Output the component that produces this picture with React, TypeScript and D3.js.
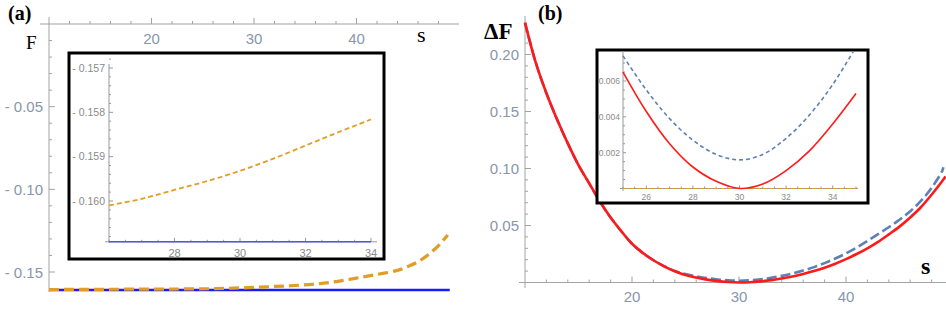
import React from 'react';
import * as d3 from 'd3';

// ---- panel (a): F vs s ----
const sOrangeA = [10, 14, 18, 22, 26, 28, 30, 32, 34, 36, 38, 40, 42, 44, 45, 46, 47, 48, 48.9];
const fOrangeA = [-0.1606, -0.1605, -0.1604, -0.1603, -0.1601, -0.15975, -0.15932, -0.15875, -0.15816,
  -0.1573, -0.1558, -0.1537, -0.1515, -0.149, -0.1467, -0.1438, -0.1395, -0.134, -0.1276];
const sBlueA = [10, 49.1];
const fBlueA = [-0.1609, -0.1609];

const sInsetA = [26, 27, 28, 29, 30, 31, 32, 33, 34];
const fInsetOrangeA = [-0.1601, -0.15995, -0.15975, -0.15955, -0.15932, -0.15905, -0.15875, -0.15845, -0.15816];
const sInsetBlueA = [26, 34];
const fInsetBlueA = [-0.16092, -0.16092];

const aXTicks = [20, 30, 40];
const aYTicks = [-0.05, -0.1, -0.15];
const aInsetXTicks = [28, 30, 32, 34];
const aInsetYTicks = [-0.157, -0.158, -0.159, -0.16];

// ---- panel (b): ΔF vs s ----
const sB = [10, 11, 12, 13, 14, 15, 16, 17, 18, 19, 20, 21, 22, 23, 24, 25, 26, 27, 28, 29,
  30, 31, 32, 33, 34, 35, 36, 37, 38, 39, 40, 41, 42, 43, 44, 45, 46, 47, 48, 49];
const redB = [0.228, 0.193, 0.166, 0.143, 0.122, 0.103, 0.087, 0.071, 0.057, 0.045,
  0.034, 0.026, 0.0195, 0.0142, 0.0099, 0.0065, 0.0043, 0.0025, 0.0012, 0.0004,
  0, 0.00025, 0.001, 0.0021, 0.0036, 0.0053, 0.0075, 0.01, 0.013, 0.0165,
  0.0205, 0.025, 0.03, 0.0357, 0.0422, 0.049, 0.057, 0.066, 0.077, 0.089];
const blueB = [0.228, 0.193, 0.166, 0.143, 0.122, 0.103, 0.087, 0.071, 0.057, 0.045,
  0.034, 0.026, 0.0196, 0.0144, 0.0101, 0.0074, 0.0055, 0.0039, 0.0027, 0.0019,
  0.0016, 0.0019, 0.0028, 0.0041, 0.0058, 0.0079, 0.0105, 0.0135, 0.017, 0.021,
  0.0255, 0.0307, 0.0365, 0.0425, 0.0485, 0.055, 0.0625, 0.0715, 0.083, 0.098];
const sRedEnd = 49.3, redEnd = 0.093;
const sBlueEnd = 49.1, blueEnd = 0.101;

const bXTicks = [20, 30, 40];
const bYTicks = [0.05, 0.1, 0.15, 0.2];
const bInsetXTicks = [26, 28, 30, 32, 34];
const bInsetYTicks = [0.002, 0.004, 0.006];

// scales
const xA = d3.scaleLinear().domain([10, 50]).range([49, 459]);
const yA = d3.scaleLinear().domain([0, -0.15]).range([24, 272]);
const xIA = d3.scaleLinear().domain([26, 34]).range([109, 371]);
const yIA = d3.scaleLinear().domain([-0.16, -0.157]).range([201, 68]);
const xB = d3.scaleLinear().domain([10, 50]).range([525, 953]);
const yB = d3.scaleLinear().domain([0, 0.2]).range([282.5, 54.5]);
const xIB = d3.scaleLinear().domain([25, 35]).range([623, 856]);
const yIB = d3.scaleLinear().domain([0, 0.006]).range([188.5, 81]);

const linePath = (xs: number[], ys: number[], sx: any, sy: any) =>
  d3.line<number>()
    .x((d) => sx(d))
    .y((_, i) => sy(ys[i]))
    .curve(d3.curveCatmullRom.alpha(0.5))(xs) as string;

const SANS = 'Liberation Sans, Arial, sans-serif';
const SERIF = 'Liberation Serif, Times New Roman, serif';
const AXIS = '#a3a3a3';
const LABEL = '#8796ad';
const INSET_LABEL = '#8a8a8a';

const fmtNeg = (d: number, digits: number) => (d < 0 ? '- ' : '') + Math.abs(d).toFixed(digits);

// horizontal axis, ticks pointing up
const HAxis = ({sx, y, x0, x1, majors, minors, fmt, fs, dy, major = 5, minor = 3, color, stroke}: any) => (
  <g>
    <line x1={x0} x2={x1} y1={y} y2={y} stroke={stroke} strokeWidth={1} />
    {minors.map((t: number) => (
      <line key={'m' + t} x1={sx(t)} x2={sx(t)} y1={y} y2={y - minor} stroke={stroke} />
    ))}
    {majors.map((t: number) => (
      <g key={t}>
        <line x1={sx(t)} x2={sx(t)} y1={y} y2={y - major} stroke={stroke} />
        <text x={sx(t)} y={y + dy} fontSize={fs} fontFamily={SANS} fill={color} textAnchor="middle">{fmt(t)}</text>
      </g>
    ))}
  </g>
);

// vertical axis, ticks pointing right
const VAxis = ({sy, x, y0, y1, majors, minors, fmt, fs, dx, dy, major = 5, minor = 3, color, stroke}: any) => (
  <g>
    <line x1={x} x2={x} y1={y0} y2={y1} stroke={stroke} strokeWidth={1} />
    {minors.map((t: number) => (
      <line key={'m' + t} x1={x} x2={x + minor} y1={sy(t)} y2={sy(t)} stroke={stroke} />
    ))}
    {majors.map((t: number) => (
      <g key={t}>
        <line x1={x} x2={x + major} y1={sy(t)} y2={sy(t)} stroke={stroke} />
        <text x={x - dx} y={sy(t) + dy} fontSize={fs} fontFamily={SANS} fill={color} textAnchor="end">{fmt(t)}</text>
      </g>
    ))}
  </g>
);

const minorsOf = (a: number, b: number, step: number, majors: number[]) =>
  d3.range(a, b + step / 2, step).filter((t) => !majors.some((m) => Math.abs(m - t) < step / 10));

export default function App() {
  const bInRed = sB.map((s, i) => [s, redB[i]]).filter(([s]) => s >= 25 && s <= 35);
  const bInBlue = sB.map((s, i) => [s, blueB[i]]).filter(([s]) => s >= 25 && s <= 35);

  return (
    <svg width={946} height={310} style={{position: 'absolute', left: 0, top: 0, background: '#fff'}}>
      <defs>
        <clipPath id="clipIB">
          <rect x={599} y={52} width={267} height={149} />
        </clipPath>
        <clipPath id="clipB">
          <rect x={520} y={0} width={426} height={300} />
        </clipPath>
      </defs>

      {/* ---------- panel (a) ---------- */}
      <HAxis sx={xA} y={yA(0)} x0={40} x1={459} majors={aXTicks}
        minors={minorsOf(12, 48, 2, aXTicks)} fmt={(d: number) => d} fs={15} dy={19.5}
        color={LABEL} stroke={AXIS} major={6} minor={3} />
      <VAxis sy={yA} x={xA(10)} y0={17} y1={292} majors={aYTicks}
        minors={minorsOf(-0.16, -0.01, 0.01, aYTicks)} fmt={(d: number) => fmtNeg(d, 2)} fs={15} dx={6} dy={5.5}
        color={LABEL} stroke={AXIS} major={6} minor={3} />

      <path d={linePath(sBlueA, fBlueA, xA, yA)} fill="none" stroke="#1a1aff" strokeWidth={2.5} />
      <path d={linePath(sOrangeA, fOrangeA, xA, yA)} fill="none" stroke="#e29d26" strokeWidth={3.2}
        strokeDasharray="10 5" />

      {/* inset (a) */}
      <rect x={69} y={53} width={315} height={206} fill="#fff" stroke="#000" strokeWidth={3} />
      <VAxis sy={yIA} x={xIA(26)} y0={64} y1={243} majors={aInsetYTicks}
        minors={minorsOf(-0.1608, -0.1568, 0.0002, aInsetYTicks)} fmt={(d: number) => fmtNeg(d, 3)} fs={10.5}
        dx={4} dy={3.5} color={INSET_LABEL} stroke="#999" major={4} minor={2} />
      <HAxis sx={xIA} y={yIA(-0.16092)} x0={105} x1={377} majors={aInsetXTicks}
        minors={minorsOf(26, 34, 0.5, aInsetXTicks)} fmt={(d: number) => d} fs={11} dy={15}
        color={INSET_LABEL} stroke="#999" major={4} minor={2} />
      <path d={linePath(sInsetBlueA, fInsetBlueA, xIA, yIA)} fill="none" stroke="#5555d6" strokeWidth={1.6} />
      <path d={linePath(sInsetA, fInsetOrangeA, xIA, yIA)} fill="none" stroke="#e29d26" strokeWidth={1.8}
        strokeDasharray="5 3" />

      <text x={8} y={20} fontSize={20} fontWeight="bold" fontFamily={SERIF} fill="#000">(a)</text>
      <text x={26} y={49} fontSize={19} fontFamily={SERIF} fill="#000">F</text>
      <text x={417} y={42} fontSize={22} fontFamily={SERIF} fill="#000">s</text>

      {/* ---------- panel (b) ---------- */}
      <HAxis sx={xB} y={yB(0)} x0={519} x1={946} majors={bXTicks}
        minors={minorsOf(12, 48, 2, bXTicks)} fmt={(d: number) => d} fs={15} dy={19.5}
        color={LABEL} stroke={AXIS} major={6} minor={3} />
      <VAxis sy={yB} x={xB(10)} y0={16} y1={288} majors={bYTicks}
        minors={minorsOf(0.01, 0.22, 0.01, bYTicks)} fmt={(d: number) => d.toFixed(2)} fs={15} dx={6} dy={5.5}
        color={LABEL} stroke={AXIS} major={6} minor={3} />

      <g clipPath="url(#clipB)">
        <path d={linePath([...sB, sBlueEnd], [...blueB, blueEnd], xB, yB)} fill="none" stroke="#5d81b6"
          strokeWidth={2.6} strokeDasharray="10 4" />
        <path d={linePath([...sB, sRedEnd], [...redB, redEnd], xB, yB)} fill="none" stroke="#ff1a1a"
          strokeWidth={2.6} />
      </g>

      {/* inset (b) */}
      <rect x={597} y={50} width={271} height={153} fill="#fff" stroke="#000" strokeWidth={3} />
      <VAxis sy={yIB} x={xIB(25)} y0={51} y1={191} majors={bInsetYTicks}
        minors={minorsOf(0.0005, 0.007, 0.0005, bInsetYTicks)} fmt={(d: number) => d.toFixed(3)} fs={8.5}
        dx={3} dy={3} color={INSET_LABEL} stroke="#999" major={3} minor={2} />
      <HAxis sx={xIB} y={yIB(0)} x0={620} x1={858} majors={bInsetXTicks}
        minors={minorsOf(25, 35, 0.5, bInsetXTicks)} fmt={(d: number) => d} fs={8.5} dy={11.5}
        color={INSET_LABEL} stroke="#999" major={3} minor={2} />
      <g clipPath="url(#clipIB)">
        <path d={linePath([25, 35], [0, 0], xIB, yIB)} fill="none" stroke="#e29d26" strokeWidth={1.2}
          strokeDasharray="4 3" />
        <path d={linePath(bInBlue.map((d) => d[0]), bInBlue.map((d) => d[1]), xIB, yIB)} fill="none"
          stroke="#5d81b6" strokeWidth={1.6} strokeDasharray="4 3" />
        <path d={linePath(bInRed.map((d) => d[0]), bInRed.map((d) => d[1]), xIB, yIB)} fill="none"
          stroke="#ff1a1a" strokeWidth={1.6} />
      </g>

      <text x={538} y={20} fontSize={20} fontWeight="bold" fontFamily={SERIF} fill="#000">(b)</text>
      <text x={484} y={39} fontSize={23} fontWeight="bold" fontFamily={SERIF} fill="#000">ΔF</text>
      <text x={921} y={274} fontSize={24} fontWeight="bold" fontFamily={SERIF} fill="#000">s</text>
    </svg>
  );
}
